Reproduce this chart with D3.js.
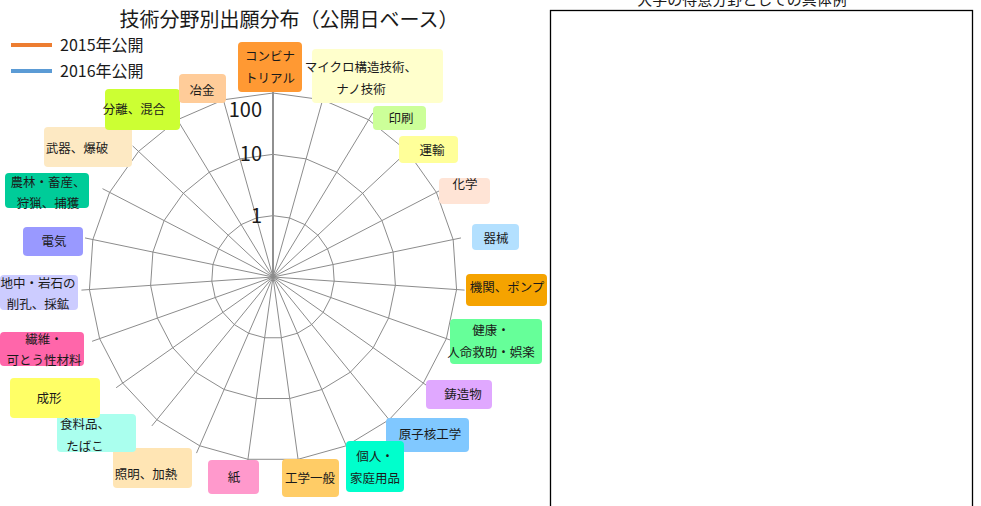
<!DOCTYPE html>
<html>
<head>
<meta charset="utf-8">
<script src="https://cdn.jsdelivr.net/npm/d3@7/dist/d3.min.js"></script>
<style>
  body { margin: 0; background: #fff; }
  text { font-family: "Noto Sans CJK JP", "Noto Sans", sans-serif; fill: #1a1a1a; }
</style>
</head>
<body>
<script>
// categories, clockwise from the top
var categories = [
  'コンビナトリアル', 'マイクロ構造技術、ナノ技術', '印刷', '運輸', '化学', '器械',
  '機関、ポンプ', '健康・人命救助・娯楽', '鋳造物', '原子核工学', '個人・家庭用品',
  '工学一般', '紙', '照明、加熱', '食料品、たばこ', '成形', '繊維・可とう性材料',
  '地中・岩石の削孔、採鉱', '電気', '農林・畜産、狩猟、捕獲', '武器、爆破', '分離、混合', '冶金'
];
// no values are plotted in the picture
var values2015 = categories.map(function() { return null; });
var values2016 = categories.map(function() { return null; });
var ticks = [1, 10, 100];
var seriesNames = ['2015年公開', '2016年公開'];

// label boxes (layout only)
var labelBoxes = [
  {x: 238, y: 42, w: 64, h: 50, fill: '#ff9933', lines: ['コンビナ', 'トリアル'], tx: 270, ty: [57, 79]},
  {x: 312, y: 49, w: 131, h: 54, fill: '#ffffcc', lines: ['マイクロ構造技術、', 'ナノ技術'], tx: 361, ty: [68, 90]},
  {x: 373, y: 106, w: 53, h: 24, fill: '#ccff99', lines: ['印刷'], tx: 401, ty: [119]},
  {x: 399, y: 136, w: 59, h: 27, fill: '#ffff99', lines: ['運輸'], tx: 432, ty: [151]},
  {x: 439, y: 178, w: 51, h: 26, fill: '#ffe4d6', lines: ['化学'], tx: 465, ty: [185]},
  {x: 472, y: 224, w: 47, h: 26, fill: '#b3e0ff', lines: ['器械'], tx: 496, ty: [239]},
  {x: 466, y: 274, w: 81, h: 32, fill: '#f5a300', lines: ['機関、ポンプ'], tx: 507, ty: [288]},
  {x: 450, y: 319, w: 92, h: 45, fill: '#66ff99', lines: ['健康・', '人命救助・娯楽'], tx: 491, ty: [331, 353]},
  {x: 426, y: 380, w: 66, h: 29, fill: '#e0a8ff', lines: ['鋳造物'], tx: 463, ty: [395]},
  {x: 386, y: 418, w: 83, h: 34, fill: '#80c8ff', lines: ['原子核工学'], tx: 430, ty: [435]},
  {x: 346, y: 441, w: 58, h: 51, fill: '#00ffcc', lines: ['個人・', '家庭用品'], tx: 375, ty: [457, 479]},
  {x: 282, y: 459, w: 57, h: 38, fill: '#ffcc66', lines: ['工学一般'], tx: 310, ty: [479]},
  {x: 208, y: 460, w: 51, h: 34, fill: '#ff99cc', lines: ['紙'], tx: 234, ty: [478]},
  {x: 113, y: 448, w: 79, h: 40, fill: '#ffe5b4', lines: ['照明、加熱'], tx: 146, ty: [475]},
  {x: 57, y: 414, w: 79, h: 38, fill: '#aaffee', lines: ['食料品、', 'たばこ'], tx: 85, ty: [425, 447]},
  {x: 10, y: 378, w: 90, h: 40, fill: '#ffff66', lines: ['成形'], tx: 49, ty: [399]},
  {x: 0, y: 332, w: 84, h: 34, fill: '#ff66aa', lines: ['繊維・', '可とう性材料'], tx: 44, ty: [340, 361]},
  {x: 0, y: 275, w: 78, h: 35, fill: '#ccccff', lines: ['地中・岩石の', '削孔、採鉱'], tx: 38, ty: [284, 305]},
  {x: 23, y: 227, w: 60, h: 29, fill: '#9999ff', lines: ['電気'], tx: 54, ty: [242]},
  {x: 5, y: 173, w: 84, h: 35, fill: '#00cc99', lines: ['農林・畜産、', '狩猟、捕獲'], tx: 48, ty: [183, 204]},
  {x: 44, y: 127, w: 88, h: 40, fill: '#fde9c3', lines: ['武器、爆破'], tx: 77, ty: [149]},
  {x: 105, y: 89, w: 75, h: 41, fill: '#ccff33', lines: ['分離、混合'], tx: 134, ty: [110]},
  {x: 179, y: 74, w: 47, h: 29, fill: '#ffcc99', lines: ['冶金'], tx: 202, ty: [91]}
];

var width = 981, height = 506;
var cx = 273, cy = 277, outerR = 184;

var svg = d3.select('body')
  .append('svg')
  .attr('width', width)
  .attr('height', height);

var r = d3.scaleLog().domain([0.1, 100]).range([0, outerR]);
var angle = d3.scaleLinear().domain([0, categories.length]).range([0, 2 * Math.PI]);

var g = svg.append('g').attr('transform', 'translate(' + cx + ',' + cy + ')');

function px(i, rad) { return Math.sin(angle(i)) * rad; }
function py(i, rad) { return -Math.cos(angle(i)) * rad; }

// rings
g.selectAll('.ring')
  .data(ticks)
  .enter()
  .append('polygon')
  .attr('class', 'ring')
  .attr('points', function(t) {
    return categories.map(function(c, i) {
      return px(i, r(t)) + ',' + py(i, r(t));
    }).join(' ');
  })
  .attr('fill', 'none')
  .attr('stroke', '#8c8c8c')
  .attr('stroke-width', 1);

// spokes
g.selectAll('.spoke')
  .data(categories)
  .enter()
  .append('line')
  .attr('class', 'spoke')
  .attr('x1', 0).attr('y1', 0)
  .attr('x2', function(d, i) { return px(i, outerR + 8); })
  .attr('y2', function(d, i) { return py(i, outerR + 8); })
  .attr('stroke', function(d, i) { return i === 0 ? '#909090' : '#8c8c8c'; })
  .attr('stroke-width', function(d, i) { return i === 0 ? 2 : 1; });

// series (empty)
var line = d3.lineRadial()
  .defined(function(d) { return d != null; })
  .angle(function(d, i) { return angle(i); })
  .radius(function(d) { return r(d); })
  .curve(d3.curveLinearClosed);

g.append('path').datum(values2015).attr('d', line)
  .attr('fill', 'none').attr('stroke', '#ed7d31').attr('stroke-width', 2.5);
g.append('path').datum(values2016).attr('d', line)
  .attr('fill', 'none').attr('stroke', '#5b9bd5').attr('stroke-width', 2.5);

// tick labels
g.selectAll('.tick')
  .data(ticks)
  .enter()
  .append('text')
  .attr('class', 'tick')
  .attr('x', -11)
  .attr('y', function(t, i) { return -r(t) + (i === ticks.length - 1 ? 24 : 7); })
  .attr('text-anchor', 'end')
  .style('font-size', '20px')
  .text(function(t) { return t; });

// category label boxes
var labels = svg.selectAll('.lab')
  .data(labelBoxes)
  .enter()
  .append('g')
  .attr('class', 'lab');

labels.append('rect')
  .attr('x', function(d) { return d.x; })
  .attr('y', function(d) { return d.y; })
  .attr('width', function(d) { return d.w; })
  .attr('height', function(d) { return d.h; })
  .attr('rx', 4)
  .attr('fill', function(d) { return d.fill; });

labels.each(function(d) {
  var sel = d3.select(this);
  d.lines.forEach(function(l, k) {
    sel.append('text')
      .attr('x', d.tx)
      .attr('y', d.ty[k])
      .attr('dy', '0.35em')
      .attr('text-anchor', 'middle')
      .style('font-size', '12.5px')
      .text(l);
  });
});

// title
svg.append('text')
  .attr('x', 289).attr('y', 27)
  .attr('text-anchor', 'middle')
  .style('font-size', '20px')
  .text('技術分野別出願分布（公開日ベース）');

// legend
var legColors = ['#ed7d31', '#5b9bd5'];
var leg = svg.selectAll('.leg')
  .data(seriesNames)
  .enter()
  .append('g')
  .attr('class', 'leg')
  .attr('transform', function(d, i) { return 'translate(0,' + (45 + i * 26) + ')'; });

leg.append('line')
  .attr('x1', 11).attr('x2', 52)
  .attr('stroke', function(d, i) { return legColors[i]; })
  .attr('stroke-width', 4);

leg.append('text')
  .attr('x', 60).attr('y', 0)
  .attr('dy', '0.35em')
  .style('font-size', '16px')
  .text(function(d) { return d; });

// right panel
svg.append('rect')
  .attr('x', 550.5).attr('y', 10.5)
  .attr('width', 422).attr('height', 520)
  .attr('fill', 'none')
  .attr('stroke', '#000')
  .attr('stroke-width', 1.3);

svg.append('text')
  .attr('x', 742).attr('y', 5)
  .attr('text-anchor', 'middle')
  .style('font-size', '15px')
  .text('大学の得意分野としての具体例');
</script>
</body>
</html>
